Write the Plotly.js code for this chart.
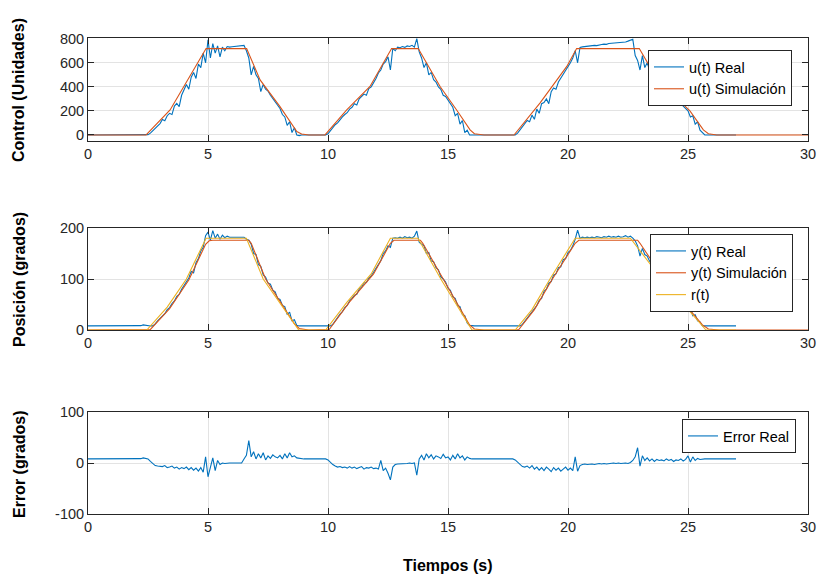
<!DOCTYPE html>
<html>
<head>
<meta charset="utf-8">
<script src="https://cdn.plot.ly/plotly-3.0.1.min.js"></script>
<style>html,body{margin:0;padding:0;background:#fff;}#chart{width:819px;height:578px;}</style>
</head>
<body>
<div id="chart"></div>
<script>
// ---- Data ----
// Real measurements sampled every 0.1 s, from 0 to 27 s
const sampleStep = 0.1;

const uReal = [
  0,0,0,0,0,0,0,0,0,0,
  0,0,0,0,0,0,0,0,0,0,
  0,0,0,0,0,3,15,35,55,80,
  95,128,118,160,180,170,240,262,235,330,
  370,420,380,480,520,470,590,560,680,600,
  790,640,760,680,740,650,730,700,735,730,
  733,735,737,740,742,745,700,640,500,570,
  500,470,360,420,380,365,330,300,280,240,
  220,170,150,80,110,20,60,0,-5,0,
  0,0,0,0,0,0,0,0,0,0,
  10,35,60,85,100,130,150,170,185,215,
  230,260,250,300,320,340,330,385,400,430,
  470,515,540,590,610,650,540,720,700,730,
  725,735,728,740,735,745,730,800,690,640,
  560,600,500,520,460,440,400,380,330,320,
  290,250,230,160,180,90,120,20,40,0,
  0,0,0,0,0,0,0,0,0,0,
  0,0,0,0,0,0,0,0,0,15,
  40,70,90,120,110,165,130,215,180,260,
  270,300,260,360,390,380,440,470,500,530,
  560,600,640,700,600,728,732,735,733,740,
  742,745,743,750,752,755,753,760,762,765,
  763,770,772,775,773,780,785,795,660,620,
  540,660,560,600,540,530,490,470,450,420,
  405,380,365,340,320,300,285,262,245,220,
  200,150,160,90,110,40,20,0,0,0,
  0,0,0,0,0,0,0,0,0,0,0
];

const yReal = [
  8,8,8,8,8,8,8,8,8,8,
  8,8,8.5,8,9,8,8.5,9,8,8,
  9,8,8.5,10,9,8,8,8,12,18,
  23,29,32,40,44,52,57,66,70,80,
  88,95,102,115,112,132,140,155,162,185,
  192,176,195,180,188,178,186,181,184,182,
  182,182,183,182,183,182,178,176,168,150,
  148,128,125,108,104,92,90,78,75,62,
  60,48,46,30,35,18,20,9,8,8,
  8,8,8.5,8,8,8,8.5,8,8,8,
  8,8,11,18,24,31,36,44,48,57,
  62,68,70,80,84,92,93,102,106,114,
  120,130,136,150,155,165,162,180,181,180,
  182,180,183,181,182,180,184,194,172,168,
  165,150,152,135,134,122,118,104,100,94,
  82,78,65,62,48,46,30,28,14,9,
  8,8,8,8.5,8,8,8,8.5,8,8,
  8,8.5,8,8,8,8.5,8,8,8,8,
  8,11,17,22,30,34,42,48,58,62,
  76,80,92,95,108,110,122,124,138,140,
  152,156,165,178,196,180,182,181,182,181,
  182,181,183,182,181,183,182,184,182,183,
  182,184,182,183,185,182,184,180,175,165,
  145,160,148,145,135,130,122,118,108,104,
  96,92,86,80,74,70,64,58,52,48,
  40,42,28,30,18,16,8,8,8,8,
  8,8,8,8,8,8,8,8,8,8,8
];

const eReal = [
  8,8,8,8,8,8,8,8,8,8,
  8,8,8.5,8,9,8,8.5,9,8,8,
  9,8,8.5,10,9,8,3,-2,-5,-6,
  -6,-7,-5,-9,-8,-6,-10,-8,-12,-9,
  -11,-8,-13,-9,-14,-10,-16,-9,-18,12,
  -27,-5,10,-15,5,-3,0,-1,0,0,
  0,0,0,0,0,8,15,44,12,22,
  8,18,10,20,6,14,9,16,12,10,
  15,8,18,10,20,12,14,10,9,8,
  8,8,8,8,8.5,8,8,8,8,8,
  6,1,-3,-6,-8,-7,-9,-8,-10,-7,
  -10,-8,-11,-9,-7,-12,-9,-10,-8,-11,
  -10,-12,5,-15,-10,-20,-33,-8,-3,-2,
  -2,-1,-2,-1,0,-1,0,-24,8,15,
  6,18,10,16,8,14,12,9,17,10,
  12,6,15,8,18,10,14,6,12,9,
  8,8,8,8,8,8,8,8,8,8,
  8,8,8,8,8,8,8,8,6,2,
  -3,-7,-8,-6,-10,-5,-12,-8,-14,-9,
  -15,-8,-12,-17,-9,-14,-10,-16,-12,-8,
  -14,-10,-15,12,-16,-5,-3,-2,-3,-2,
  -2,-3,-2,-1,-2,-1,-2,-1,-1,0,
  -1,0,-1,0,0,-1,1,5,12,30,
  -6,14,5,10,4,8,3,7,5,6,
  4,8,5,7,3,6,5,8,4,7,
  14,2,12,5,9,7,8,8,8,8,
  8,8,8,8,8,8,8,8,8,8,8
];

// Simulated control signal (breakpoints)
const uSimT = [0,2.42,3.42,4.25,4.92,6.61,7.17,8.0,8.7,8.9,9.2,9.875,10.78,11.75,12.65,13.76,14.67,15.36,15.92,16.1,16.5,17.75,18.83,19.95,20.36,22.97,23.56,24.39,25.08,25.64,25.85,26.2,30];
const uSimV = [0,0,208,486,718,718,458,236,28,8,0,0,208,403,718,718,403,208,42,10,0,0,265,570,718,718,516,333,200,42,10,0,0];

// Simulated position (breakpoints)
const ySimT = [0,2.5,2.6,3.4,4.2,4.9,5.05,5.2,6.7,6.8,7.4,8.6,8.8,9.2,9.95,10.05,10.9,11.9,12.6,12.75,13.85,13.95,14.8,15.9,16.1,16.5,17.85,17.95,18.6,19.35,20.3,20.45,22.9,23.0,24.0,25.6,25.85,26.3,30];
const ySimV = [0,0,1,42,98,168,175,176,176,170,100,12,3,0,0,1,55,110,170,176,176,170,100,10,2,0,0,1,40,100,170,176,176,170,100,10,2,0,0];

// Reference r(t) (breakpoints)
const rT = [0,2.45,3.3,4.1,4.92,6.6,7.3,8.78,9.9,10.8,11.8,12.6,13.75,14.7,16.0,17.8,18.5,19.25,20.3,22.6,23.9,25.75,27];
const rV = [0,0,45,100,180,180,100,0,0,55,110,180,180,100,0,0,40,100,180,180,100,0,0];

// Labels
const legendNames = ["u(t) Real","u(t) Simulación","y(t) Real","y(t) Simulación","r(t)","Error Real"];
const yTitles = ["Control (Unidades)","Posición (grados)","Error (grados)"];
const xTitle = "Tiempos (s)";
const xTicks = [0,5,10,15,20,25,30];

// ---- Build ----
const tReal = uReal.map((_, i) => Math.round(i * sampleStep * 10) / 10);

const BLUE = "#0072BD", ORANGE = "#D95319", YELLOW = "#EDB120";
const FONT = "Liberation Sans, Arial, Helvetica, sans-serif";
const INK = "#262626";
const FS = 14.5;

const traces = [
  {x: tReal, y: uReal, name: legendNames[0], type: "scatter", mode: "lines", line: {color: BLUE, width: 1.1}, xaxis: "x", yaxis: "y", legend: "legend"},
  {x: uSimT, y: uSimV, name: legendNames[1], type: "scatter", mode: "lines", line: {color: ORANGE, width: 1.1}, xaxis: "x", yaxis: "y", legend: "legend"},
  {x: tReal, y: yReal, name: legendNames[2], type: "scatter", mode: "lines", line: {color: BLUE, width: 1.1}, xaxis: "x2", yaxis: "y2", legend: "legend2"},
  {x: ySimT, y: ySimV, name: legendNames[3], type: "scatter", mode: "lines", line: {color: ORANGE, width: 1.1}, xaxis: "x2", yaxis: "y2", legend: "legend2"},
  {x: rT, y: rV, name: legendNames[4], type: "scatter", mode: "lines", line: {color: YELLOW, width: 1.1}, xaxis: "x2", yaxis: "y2", legend: "legend2"},
  {x: tReal, y: eReal, name: legendNames[5], type: "scatter", mode: "lines", line: {color: BLUE, width: 1.1}, xaxis: "x3", yaxis: "y3", legend: "legend3"}
];

const H = 578;
function dom(top, bottom) { return [1 - bottom / H, 1 - top / H]; }

function xax(anchor) {
  return {
    anchor: anchor, domain: [0, 1], range: [0, 30], tickvals: xTicks, ticktext: xTicks.map(String),
    showgrid: true, gridcolor: "#e3e3e3", gridwidth: 1, zeroline: false,
    showline: true, linecolor: INK, linewidth: 1, mirror: "ticks",
    ticks: "inside", ticklen: 6, tickcolor: INK, tickwidth: 1,
    tickfont: {family: FONT, size: FS, color: INK}, fixedrange: true
  };
}
function yax(anchor, domain, range, ticks) {
  return {
    anchor: anchor, domain: domain, range: range, tickvals: ticks, ticktext: ticks.map(String),
    showgrid: true, gridcolor: "#e3e3e3", gridwidth: 1, zeroline: false,
    showline: true, linecolor: INK, linewidth: 1, mirror: "ticks",
    ticks: "inside", ticklen: 6, tickcolor: INK, tickwidth: 1,
    tickfont: {family: FONT, size: FS, color: INK}, fixedrange: true
  };
}
function leg(xr, ytop) {
  return {
    x: (xr - 88) / 720, y: 1 - ytop / H, xanchor: "right", yanchor: "top",
    bgcolor: "#ffffff", bordercolor: INK, borderwidth: 1,
    font: {family: FONT, size: FS, color: "#000"}, tracegroupgap: 0
  };
}
function ytitle(text, yc) {
  return {text: text, xref: "paper", yref: "paper", x: (19 - 88) / 720, y: 1 - yc / H,
    xanchor: "center", yanchor: "middle", textangle: -90, showarrow: false,
    font: {family: FONT, size: 16, color: "#000", weight: "bold"}};
}

const layout = {
  width: 819, height: 578,
  margin: {l: 88, r: 11, t: 0, b: 0},
  paper_bgcolor: "#fff", plot_bgcolor: "#fff",
  showlegend: true,
  xaxis: xax("y"), xaxis2: xax("y2"), xaxis3: xax("y3"),
  yaxis: yax("x", dom(38, 141), [-50, 806], [0, 200, 400, 600, 800]),
  yaxis2: yax("x2", dom(228, 330), [0, 200], [0, 100, 200]),
  yaxis3: yax("x3", dom(412, 514), [-100, 100], [-100, 0, 100]),
  legend: leg(792, 50),
  legend2: leg(793, 234),
  legend3: leg(796, 419),
  annotations: [
    ytitle(yTitles[0], 90),
    ytitle(yTitles[1], 280),
    ytitle(yTitles[2], 464),
    {text: xTitle, xref: "paper", yref: "paper", x: 0.5, y: 1 - 565 / H, xanchor: "center", yanchor: "middle",
     showarrow: false, font: {family: FONT, size: 16, color: "#000", weight: "bold"}}
  ]
};

Plotly.newPlot("chart", traces, layout, {displayModeBar: false, staticPlot: true});
</script>
</body>
</html>
